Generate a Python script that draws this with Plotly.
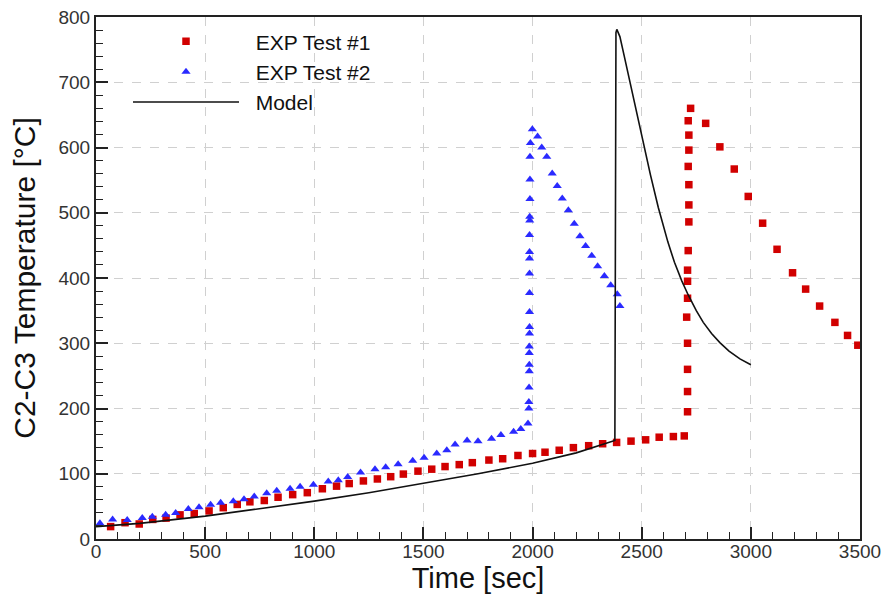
import plotly.graph_objects as go

# ---- data ----
exp1_time = [67, 133, 198, 260, 321, 385, 450, 518, 583, 647, 705, 771, 834, 901, 968,
             1037, 1102, 1160, 1225, 1289, 1350, 1408, 1475, 1538, 1599, 1664, 1724, 1800,
             1863, 1933, 2000, 2057, 2122, 2187, 2257, 2321, 2385, 2451, 2518, 2580, 2645, 2695,
             2710, 2710, 2710, 2710, 2706, 2710, 2710, 2710, 2713, 2716, 2716, 2716, 2713,
             2716, 2716, 2713, 2724,
             2793, 2858, 2924, 2988, 3054, 3120, 3191, 3251, 3315, 3385, 3443, 3490]
exp1_temp = [19, 25, 23, 30, 32, 37, 39, 43, 48, 53, 57, 59, 64, 68, 71,
             77, 81, 85, 89, 92, 95.5, 99.5, 104, 107, 111, 114, 117, 121,
             123, 128, 131, 133, 136, 140, 143, 146, 148, 150, 152, 156, 157, 158,
             195, 226, 260, 300, 340, 369, 395, 412, 442, 486, 512, 543, 571,
             596, 619, 641, 660,
             637, 601, 567, 525, 484, 444, 408, 383, 357, 332, 312, 297]

exp2_time = [18, 76, 143, 212, 258, 319, 365, 423, 472, 525, 571, 629, 678, 725, 782,
             828, 889, 935, 996, 1064, 1110, 1153, 1212, 1278, 1327, 1384, 1451, 1503,
             1561, 1607, 1645, 1700, 1750, 1812, 1855, 1913, 1946, 1979,
             1983, 1983, 1984, 1985, 1985, 1985, 1985, 1986, 1986, 1986, 1986, 1986, 1986,
             1986, 1986, 1987, 1987, 1988, 1988, 1988, 1990,
             1999,
             2023, 2042, 2065, 2090, 2113, 2136, 2164, 2191, 2217, 2243, 2271, 2298,
             2329, 2358, 2388, 2400]
exp2_temp = [24, 30, 29, 32, 34, 37, 40, 46, 48.6, 52.6, 55.6, 58, 61, 65, 70,
             74, 77, 80, 83, 88, 90, 95, 102, 107, 110, 114.5, 120, 124.6,
             131, 136, 145, 151, 150, 153.5, 159.5, 164.5, 168.6, 177,
             200, 210, 232, 257, 267, 285, 295, 315, 325, 348, 377, 407, 430,
             440, 466, 488, 494, 521, 551, 586, 607,
             628,
             617, 600, 586, 560, 541, 522, 504, 483, 464, 449, 434, 418,
             403, 389, 375, 357]

model_time = [0, 200, 500, 750, 1000, 1250, 1500, 1750, 2000, 2200, 2377, 2379, 2382,
              2386, 2400, 2420, 2446, 2475, 2507, 2540, 2576, 2620, 2650, 2683, 2713,
              2750, 2782, 2820, 2858, 2900, 2950, 3000]
model_temp = [19, 24, 35, 46, 58, 71, 85, 100, 116, 132, 151, 740, 776,
              781, 770, 740, 700, 655, 606, 558, 508, 455, 424, 396, 374,
              350, 332, 315, 301, 288, 276, 267]

x_ticks = [0, 500, 1000, 1500, 2000, 2500, 3000, 3500]
y_ticks = [0, 100, 200, 300, 400, 500, 600, 700, 800]

FONT = "Liberation Sans, Arial, sans-serif"
NB = "\u00a0\u00a0"

fig = go.Figure()
fig.add_trace(go.Scatter(
    x=exp1_time, y=exp1_temp, mode="markers", name=NB + "EXP Test #1",
    marker=dict(symbol="square", size=7.5, color="#d10000")))
fig.add_trace(go.Scatter(
    x=exp2_time, y=exp2_temp, mode="markers", name=NB + "EXP Test #2",
    marker=dict(symbol="triangle-up", size=8, color="#2a2aff")))
fig.add_trace(go.Scatter(
    x=model_time, y=model_temp, mode="lines", name=NB + "Model",
    line=dict(color="#111111", width=1.6)))

axis_common = dict(
    showline=True, linecolor="#222222", linewidth=2, mirror=True,
    ticks="inside", ticklen=12, tickwidth=2, tickcolor="#222222",
    showgrid=True, gridcolor="#d0d0d0", griddash="dash", gridwidth=1,
    zeroline=False, automargin=False,
    tickfont=dict(family=FONT, size=19, color="#333333"),
)

fig.update_xaxes(
    range=[0, 3500], tickvals=x_ticks, ticklabelstandoff=-6,
    minor=dict(dtick=100, ticks="inside", ticklen=7, tickwidth=1, tickcolor="#222222", showgrid=False),
    title=dict(text="Time [sec]", font=dict(family=FONT, size=29, color="#111111"), standoff=4),
    **axis_common)
fig.update_yaxes(
    range=[0, 800], tickvals=y_ticks,
    minor=dict(dtick=20, ticks="inside", ticklen=7, tickwidth=1, tickcolor="#222222", showgrid=False),
    title=dict(text="C2-C3 Temperature [°C]", font=dict(family=FONT, size=30, color="#111111"), standoff=14),
    **axis_common)

fig.update_layout(
    width=886, height=594,
    margin=dict(l=96, r=26, t=17, b=55),
    paper_bgcolor="white", plot_bgcolor="white",
    showlegend=True,
    legend=dict(
        x=(128 - 96) / 764, y=0.992, xanchor="left", yanchor="top",
        bgcolor="rgba(0,0,0,0)", borderwidth=0,
        font=dict(family=FONT, size=21, color="#111111"),
        itemwidth=106, tracegroupgap=0,
    ),
)

fig.write_html("out.html")
